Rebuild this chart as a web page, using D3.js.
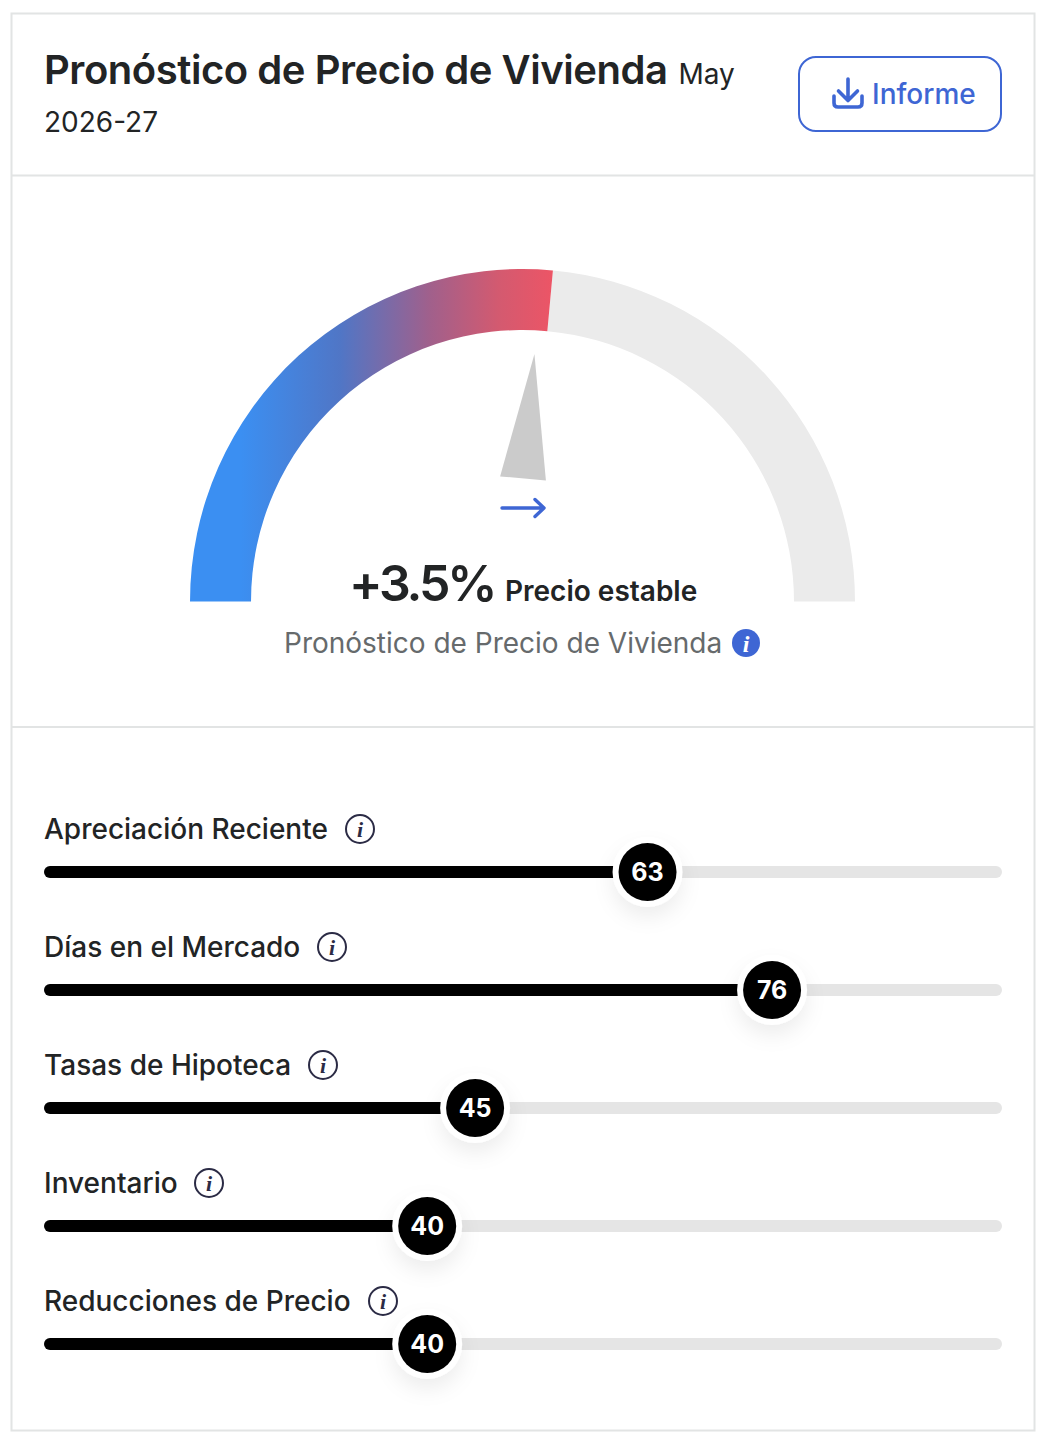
<!DOCTYPE html>
<html><head><meta charset="utf-8">
<script src="https://cdnjs.cloudflare.com/ajax/libs/d3/7.8.5/d3.min.js"></script>
<style>html,body{margin:0;padding:0;background:#fff}svg{display:block}text{font-family:Inter,sans-serif}</style>
</head><body><div id="c"></div>
<script>
const factorLabels = ["Apreciación Reciente","Días en el Mercado","Tasas de Hipoteca","Inventario","Reducciones de Precio"];
const factorValues = [63,76,45,40,40];
const forecastValue = 3.5;
const forecastText = "+3.5%";
const forecastStatus = "Precio estable";
const W=1045,H=1444,ink="#222425",blue="#3e66d4",track="#e5e5e5";
const svg=d3.select("#c").append("svg").attr("width",W).attr("height",H);
const defs=svg.append("defs");
const sh=defs.append("filter").attr("id","sh").attr("x","-80%").attr("y","-80%").attr("width","260%").attr("height","280%");
sh.append("feDropShadow").attr("dx",0).attr("dy",10).attr("stdDeviation",10).attr("flood-color","#000").attr("flood-opacity",0.07);
const cx=522.5,cy=601.5,Ro=332.5,Ri=271.5;
const gr=defs.append("linearGradient").attr("id","g").attr("gradientUnits","userSpaceOnUse").attr("x1",-Ro).attr("x2",30).attr("y1",0).attr("y2",0);
[[0.14,"#3b8ff2"],[0.414,"#5076c6"],[0.66,"#a0608c"],[0.85,"#d35a70"],[1,"#ec5566"]].forEach(d=>gr.append("stop").attr("offset",d[0]).attr("stop-color",d[1]));
// frame
svg.append("rect").attr("x",11.5).attr("y",13.5).attr("width",1023).attr("height",1417).attr("fill","#fff").attr("stroke","#e2e4e4").attr("stroke-width",2);
[175.5,727].forEach(y=>svg.append("line").attr("x1",12).attr("x2",1034).attr("y1",y).attr("y2",y).attr("stroke","#e2e4e4").attr("stroke-width",2));
// header
const t=svg.append("text").attr("x",44).attr("y",84).attr("fill",ink);
t.append("tspan").attr("font-size",40).attr("font-weight",600).attr("letter-spacing",-0.45).text("Pronóstico de Precio de Vivienda");
t.append("tspan").attr("font-size",28).attr("dx",11).text("May");
svg.append("text").attr("x",44).attr("y",132).attr("font-size",28).attr("fill",ink).text("2026-27");
svg.append("rect").attr("x",799).attr("y",57).attr("width",202).attr("height",74).attr("rx",17).attr("fill","#fff").attr("stroke",blue).attr("stroke-width",2);
svg.append("path").attr("d","M848 79V100M838.5 91L848 100.500L857.500 91M834 96V103Q834 107 838 107H858Q862 107 862 103V96").attr("fill","none").attr("stroke",blue).attr("stroke-width",3.6).attr("stroke-linecap","round").attr("stroke-linejoin","round");
svg.append("text").attr("x",872).attr("y",104).attr("font-size",28).attr("font-weight",500).attr("fill",blue).text("Informe");
// gauge
const angle=d3.scaleLinear().domain([-60,60]).range([-Math.PI/2,Math.PI/2]);
const arc=d3.arc().innerRadius(Ri).outerRadius(Ro);
const g=svg.append("g").attr("transform",`translate(${cx},${cy})`);
g.append("path").attr("d",arc({startAngle:angle(forecastValue),endAngle:angle(60)})).attr("fill","#ebebeb");
g.append("path").attr("d",arc({startAngle:angle(-60),endAngle:angle(forecastValue)})).attr("fill","url(#g)");
svg.append("path").attr("d","M0 -125L23 0L-23 0Z").attr("fill","#cbcbcb").attr("transform",`translate(523,478.5) rotate(${angle(forecastValue)*180/Math.PI})`);
svg.append("path").attr("d","M502 508H543M535 499.500L544 508L535 516.500").attr("fill","none").attr("stroke",blue).attr("stroke-width",3.4).attr("stroke-linecap","round").attr("stroke-linejoin","round");
svg.append("text").attr("x",349).attr("y",601).attr("font-size",50).attr("font-weight",600).attr("letter-spacing",-3.2).attr("fill",ink).text(forecastText);
svg.append("text").attr("x",505).attr("y",601).attr("font-size",28).attr("font-weight",600).attr("fill",ink).text(forecastStatus);
svg.append("text").attr("x",284).attr("y",653).attr("font-size",28).attr("fill","#666a6c").text("Pronóstico de Precio de Vivienda");
svg.append("circle").attr("cx",746).attr("cy",643).attr("r",14).attr("fill",blue);
svg.append("text").attr("x",746).attr("y",652).attr("text-anchor","middle").attr("font-size",24).attr("font-style","italic").attr("font-weight",700).style("font-family","'Liberation Serif'").attr("fill","#fff").text("i");
// factors
const x=d3.scaleLinear().domain([0,100]).range([44,1002]);
const y=d3.scalePoint().domain(factorLabels).range([872,1344]);
const iconX=[360,332,323,209,383];
factorLabels.forEach((lab,i)=>{
  const v=factorValues[i],yy=y(lab);
  svg.append("rect").attr("x",44).attr("y",yy-6).attr("width",958).attr("height",12).attr("rx",6).attr("fill",track);
  svg.append("rect").attr("x",44).attr("y",yy-6).attr("width",x(v)-44).attr("height",12).attr("rx",6).attr("fill","#000");
  svg.append("circle").attr("cx",x(v)).attr("cy",yy).attr("r",35).attr("fill","#fff").attr("filter","url(#sh)");
  svg.append("circle").attr("cx",x(v)).attr("cy",yy).attr("r",29).attr("fill","#000");
  svg.append("text").attr("x",x(v)).attr("y",yy+9).attr("text-anchor","middle").attr("font-size",25).attr("font-weight",700).attr("fill","#fff").text(v);
  svg.append("text").attr("x",44).attr("y",yy-33).attr("font-size",28).attr("font-weight",500).attr("fill",ink).text(lab);
  svg.append("circle").attr("cx",iconX[i]).attr("cy",yy-43).attr("r",14).attr("fill","none").attr("stroke","#2b2b45").attr("stroke-width",2);
  svg.append("text").attr("x",iconX[i]).attr("y",yy-35).attr("text-anchor","middle").attr("font-size",22).attr("font-style","italic").attr("font-weight",700).style("font-family","'Liberation Serif'").attr("fill","#2b2b45").text("i");
});
</script></body></html>
